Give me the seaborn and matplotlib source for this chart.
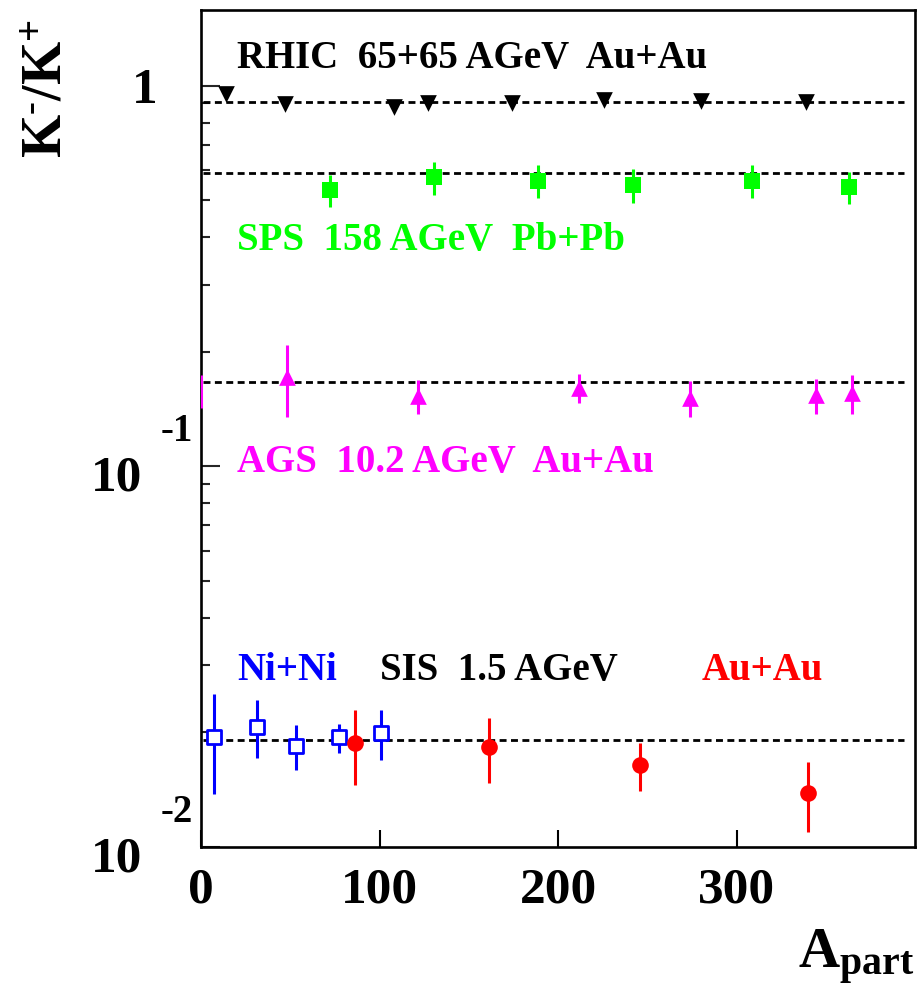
import numpy as np
import pandas as pd
import matplotlib
matplotlib.use("Agg")
import matplotlib.pyplot as plt
import matplotlib.transforms as mtransforms
from matplotlib.ticker import LogLocator, NullFormatter, FixedLocator
import seaborn as sns

# ---- data: K-/K+ ratio versus number of participants ----
rhic_x = [14.0, 47.0, 108.0, 127.0, 174.0, 226.0, 280.0, 339.0]
rhic_y = [0.951, 0.897, 0.879, 0.901, 0.901, 0.919, 0.909, 0.906]

sps_x = [72.5, 130.3, 188.7, 242.0, 308.9, 363.1]
sps_y = [0.531, 0.574, 0.563, 0.548, 0.563, 0.541]
sps_err = [0.050, 0.057, 0.055, 0.055, 0.055, 0.053]

ags_x = [0.0, 48.0, 121.5, 211.8, 273.9, 344.4, 364.5]
ags_y = [0.158, 0.1717, 0.1527, 0.1605, 0.1511, 0.1536, 0.1555]
ags_err = [0.016, 0.037, 0.0155, 0.014, 0.016, 0.0163, 0.018]

ni_x = [7.3, 31.1, 53.2, 77.1, 101.1]
ni_y = [0.0195, 0.0207, 0.0184, 0.0194, 0.0199]
ni_err = [0.0057, 0.0036, 0.0025, 0.0017, 0.0030]

au_x = [86.0, 161.1, 246.2, 340.2]
au_y = [0.01875, 0.01827, 0.01641, 0.01386]
au_err = [0.0042, 0.0035, 0.0024, 0.0029]

# mean ratio of each energy (dashed reference lines)
mean_levels = [0.904, 0.588, 0.1665, 0.0191]

xticks = [0, 100, 200, 300]
ytick_vals = [0.01, 0.1, 1.0]
ytick_mant = ["10", "10", "1"]
ytick_exp = ["-2", "-1", ""]

sns.set_theme(style="white")
plt.rcParams["font.family"] = ["Liberation Serif", "DejaVu Serif"]
plt.rcParams["font.weight"] = "bold"
plt.rcParams["mathtext.fontset"] = "custom"
plt.rcParams["mathtext.rm"] = "Liberation Serif:bold"
plt.rcParams["mathtext.bf"] = "Liberation Serif:bold"
plt.rcParams["mathtext.it"] = "Liberation Serif:italic"

W, H = 919, 997
fig = plt.figure(figsize=(W / 100, H / 100), dpi=100)
ax_l, ax_r, ax_t, ax_b = 201, 915, 10, 847
ax = fig.add_axes([ax_l / W, 1 - ax_b / H, (ax_r - ax_l) / W, (ax_b - ax_t) / H])

ax.set_yscale("log")
ax.set_xlim(0, 400)
ax.set_ylim(0.01, 1.58)

# dashed mean lines
for lev in mean_levels:
    ax.plot([1, 394], [lev, lev], color="black", lw=2.0,
            ls=(0, (2.5, 1.6)), zorder=1)

GREEN = "#00ff00"
MAGENTA = "#ff00ff"
BLUE = "#0000ff"
RED = "#ff0000"

# error bars
for xs, ys, es, col in [(sps_x, sps_y, sps_err, GREEN),
                        (ags_x, ags_y, ags_err, MAGENTA),
                        (ni_x, ni_y, ni_err, BLUE),
                        (au_x, au_y, au_err, RED)]:
    ax.errorbar(xs, ys, yerr=es, fmt="none", ecolor=col, elinewidth=2.2,
                capsize=0, zorder=3)

# markers
rhic = pd.DataFrame({"x": rhic_x, "y": rhic_y})
sns.scatterplot(data=rhic, x="x", y="y", marker="v", s=12 ** 2,
                color="black", edgecolor="black", linewidth=0, ax=ax, zorder=4)

sps = pd.DataFrame({"x": sps_x, "y": sps_y})
sns.scatterplot(data=sps, x="x", y="y", marker="s", s=11.5 ** 2,
                color=GREEN, edgecolor=GREEN, linewidth=0, ax=ax, zorder=4)

ags = pd.DataFrame({"x": ags_x, "y": ags_y})
ags_in = ags[ags["x"] > 0]   # points sitting on the frame edge keep only their bar
sns.scatterplot(data=ags_in, x="x", y="y", marker="^", s=12 ** 2,
                color=MAGENTA, edgecolor=MAGENTA, linewidth=0, ax=ax, zorder=4)

ni = pd.DataFrame({"x": ni_x, "y": ni_y})
sns.scatterplot(data=ni, x="x", y="y", marker="s", s=10.0 ** 2,
                facecolor="white", edgecolor=BLUE, linewidth=2.0, ax=ax, zorder=4)

au = pd.DataFrame({"x": au_x, "y": au_y})
sns.scatterplot(data=au, x="x", y="y", marker="o", s=12.0 ** 2,
                color=RED, edgecolor=RED, linewidth=0, ax=ax, zorder=4)

ax.set_xlabel("")
ax.set_ylabel("")

# frame and ticks
for sp in ax.spines.values():
    sp.set_linewidth(1.9)
    sp.set_color("black")
    sp.set_zorder(2.5)

ax.xaxis.set_major_locator(FixedLocator(xticks))
ax.set_xticklabels([str(t) for t in xticks], fontsize=37, fontweight="bold")
ax.yaxis.set_major_locator(FixedLocator(ytick_vals))
ax.yaxis.set_minor_locator(LogLocator(base=10, subs=np.arange(2, 10) * 1.0))
ax.yaxis.set_minor_formatter(NullFormatter())
ax.set_yticklabels([])
ax.tick_params(axis="x", which="major", direction="in", length=12.5, width=1.5,
               pad=15, bottom=True, top=False, colors="black")
ax.tick_params(axis="y", which="major", direction="in", length=13.7, width=1.5,
               left=True, right=False)
ax.tick_params(axis="y", which="minor", direction="in", length=6.5, width=1.5,
               left=True, right=False)

# y tick labels in the "10^-n" style
ytr = ax.get_yaxis_transform()
for v, m, e in zip(ytick_vals, ytick_mant, ytick_exp):
    if e:
        tm = mtransforms.offset_copy(ytr, fig=fig, x=-59, y=-24, units="dots")
        ax.text(0, v, m, transform=tm, ha="right", va="baseline",
                fontsize=37, fontweight="bold", color="black")
        te = mtransforms.offset_copy(ytr, fig=fig, x=-8, y=25, units="dots")
        ax.text(0, v, e, transform=te, ha="right", va="baseline",
                fontsize=28, fontweight="bold", color="black")
    else:
        tm = mtransforms.offset_copy(ytr, fig=fig, x=-44, y=-17, units="dots")
        ax.text(0, v, m, transform=tm, ha="right", va="baseline",
                fontsize=37, fontweight="bold", color="black")

# data set captions
tkw = dict(transform=ax.transAxes, ha="left", va="baseline", fontsize=28,
           fontweight="bold")
ax.text(0.0504, 0.9307, "RHIC  65+65 AGeV  Au+Au", color="black", **tkw)
ax.text(0.0504, 0.7133, "SPS  158 AGeV  Pb+Pb", color=GREEN, **tkw)
ax.text(0.0504, 0.448, "AGS  10.2 AGeV  Au+Au", color=MAGENTA, **tkw)
ax.text(0.0504, 0.1995, "Ni+Ni", color=BLUE, **tkw)
ax.text(0.2507, 0.1995, "SIS  1.5 AGeV", color="black", **tkw)
ax.text(0.7017, 0.1995, "Au+Au", color=RED, **tkw)

# axis titles
fig.text(47 / W, 1 - 88 / H, r"$\mathbf{K^{\text{-}}/K^{+}}$", rotation=90,
         ha="center", va="center", fontsize=40, color="black")
fig.text(915 / W, 1 - 968 / H, r"$\mathbf{A_{part}}$", ha="right",
         va="baseline", fontsize=41, color="black")

fig.savefig("out.png", dpi=100, facecolor="white")
